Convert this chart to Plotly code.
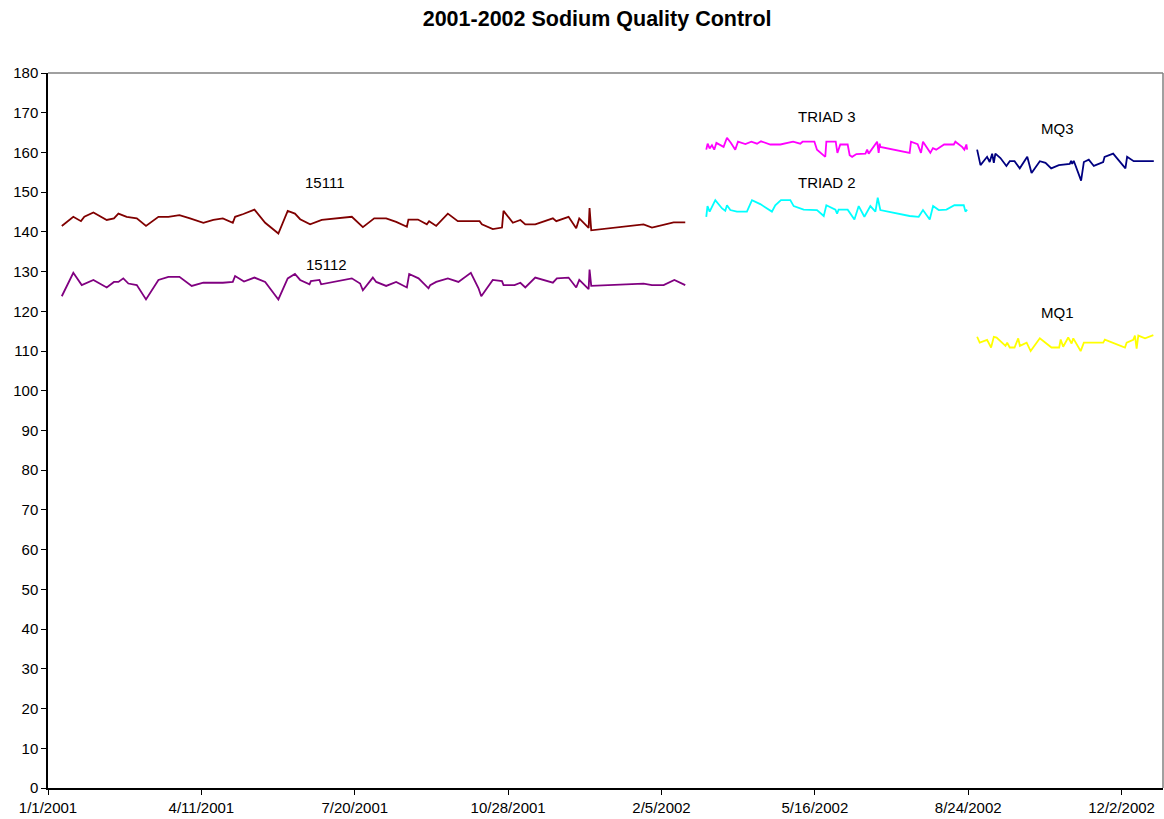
import pandas as pd
import plotly.graph_objects as go

BASE = "2001-01-01"

# ---- data: x as days since 1/1/2001, y as sodium values ----
d_15111 = [9, 16.5, 21.5, 23.7, 29.6, 38.3, 43, 45.9, 51.3, 57.9, 63.9, 72, 78.5, 85.7, 92.6,
           101.3, 107.8, 114, 120.5, 122, 127.4, 134.6, 141.6, 150.2, 156.3, 161, 164.4, 170.9,
           178.5, 198.1, 205.3, 212.7, 220.5, 227, 234, 235, 241.2, 247, 248.5, 253.1, 260.7,
           267.2, 281.4, 282.9, 290, 296, 297, 303.1, 308, 311.2, 317.7, 329.2, 331.4, 339.4,
           344.4, 346.4, 352.5, 353.1, 354.2, 388.3, 393.8, 401.4, 407.9, 415.5]
v_15111 = [141.5, 143.8, 142.7, 143.8, 144.9, 143.0, 143.4, 144.6, 143.8, 143.4, 141.5, 143.8,
           143.8, 144.2, 143.4, 142.3, 143.0, 143.4, 142.3, 143.8, 144.5, 145.6, 142.3, 139.6,
           145.3, 144.6, 143.2, 141.9, 143.0, 143.8, 141.2, 143.4, 143.4, 142.5, 141.3, 143.1,
           143.1, 141.9, 142.7, 141.5, 144.6, 142.7, 142.7, 141.9, 140.7, 141.1, 145.3, 142.3,
           143.0, 141.9, 141.9, 143.4, 142.7, 143.8, 140.9, 143.4, 141.0, 146.0, 140.4, 141.9,
           141.1, 141.9, 142.4, 142.4]

d_15112 = [9, 16.5, 22, 29.6, 38.3, 43, 45.9, 49.1, 52.4, 57.9, 63.9, 72, 78.5, 85.7, 93.7,
           101.3, 114, 120.5, 122, 127.8, 134.6, 141.6, 150.2, 156.3, 161, 164.4, 170.5, 171.4,
           177, 178.1, 198.1, 203.5, 205.3, 211.8, 214, 220.5, 227, 234, 235.5, 241.6, 248.1,
           249.2, 253.1, 260.7, 267.6, 275.7, 280.7, 282.5, 290, 296, 297, 304.2, 308, 311.2,
           317.7, 329.2, 331.8, 339.4, 344.4, 346.4, 352.5, 353.1, 354.2, 388.3, 393.8, 401.4,
           408.4, 415.5]
v_15112 = [123.8, 129.7, 126.6, 127.9, 126.0, 127.4, 127.4, 128.3, 127.0, 126.6, 123.0, 127.9,
           128.7, 128.7, 126.4, 127.2, 127.2, 127.4, 128.9, 127.5, 128.5, 127.4, 123.0, 128.3,
           129.4, 127.9, 126.8, 127.6, 127.9, 126.8, 128.3, 127.0, 125.3, 128.5, 127.4, 126.4,
           127.4, 126.0, 129.4, 128.3, 125.8, 126.6, 127.4, 128.3, 127.4, 129.7, 125.8, 123.8,
           127.9, 127.6, 126.6, 126.6, 127.2, 126.0, 128.5, 127.2, 128.3, 128.5, 126.0, 127.9,
           125.6, 130.5, 126.4, 127.0, 126.6, 126.6, 127.9, 126.6]

d_triad3 = [429.2, 430.1, 431.4, 432.9, 434.4, 435.8, 440.5, 442.7, 445.3, 448.1, 449.9, 454.7,
            458.6, 462.3, 464.9, 471, 477.5, 485.8, 490.5, 492, 499.7, 501.4, 506.8, 507.5,
            513.6, 514.7, 516.6, 521.4, 522.7, 524.3, 527.1, 533, 534.1, 535.1, 540.6, 541.6,
            542.3, 542.7, 561.8, 562.7, 567, 569.2, 570.5, 575.3, 577, 579.1, 584.3, 590.6,
            591.6, 596, 597.5, 598.8, 599.3]
v_triad3 = [160.7, 162.2, 161.0, 161.8, 160.7, 162.4, 161.4, 163.7, 162.4, 160.7, 162.7, 162.1,
            162.7, 162.2, 162.8, 162.0, 162.0, 162.7, 162.2, 162.7, 162.7, 160.7, 158.9, 162.7,
            162.7, 159.9, 162.0, 162.0, 159.3, 158.9, 159.6, 159.7, 160.7, 159.7, 162.7, 159.9,
            162.2, 161.4, 159.9, 162.7, 162.1, 159.9, 162.7, 159.9, 161.1, 160.7, 162.0, 162.0,
            162.7, 161.4, 160.7, 162.0, 160.7]

d_triad2 = [429.2, 430, 431.4, 435.1, 439.5, 441.6, 442.7, 444.9, 449.2, 455.7, 459, 464.4, 472,
            474.2, 477.9, 484, 486.2, 492.7, 501.4, 505.8, 507.5, 513.4, 514.5, 515.5, 521.4,
            525.8, 528.6, 532.3, 536.2, 539.5, 541, 542.7, 561.8, 567.7, 570.5, 574.9, 577.1,
            580.8, 585.8, 591, 597.1, 598.2, 599.3]
v_triad2 = [143.8, 146.5, 145.1, 148.0, 145.9, 145.3, 146.7, 145.5, 145.1, 145.1, 148.0, 147.0,
            145.1, 146.7, 148.0, 148.0, 146.5, 145.6, 145.5, 144.0, 146.7, 145.6, 144.6, 145.6,
            145.6, 143.1, 146.5, 143.8, 146.5, 145.1, 148.6, 145.5, 144.0, 143.8, 145.5, 143.1,
            146.5, 145.5, 145.6, 146.7, 146.7, 145.1, 145.6]

d_mq3 = [605.8, 608, 612.3, 614, 615.6, 616.7, 617.7, 621, 624.9, 627.1, 630.2, 633.6, 638.5,
         641.3, 646.7, 650.4, 654.1, 659.1, 666.2, 667.1, 667.8, 668.8, 673.6, 675.4, 678.6,
         681.9, 688, 688.9, 694.5, 702.5, 703.6, 707.9, 721]
v_mq3 = [160.7, 156.8, 158.9, 157.6, 159.7, 157.4, 159.7, 158.6, 156.6, 157.8, 157.8, 156.0,
         158.9, 154.8, 157.8, 157.4, 156.0, 156.8, 157.1, 157.9, 157.1, 157.9, 152.9, 157.6,
         158.2, 156.6, 157.6, 158.9, 159.7, 156.0, 158.9, 157.8, 157.8]

d_mq1 = [605.8, 607.5, 612.3, 614.9, 616.7, 618.5, 624.3, 625.4, 627.1, 630.2, 632.6, 633.7,
         638.1, 640.7, 646.7, 650.6, 654.3, 659.3, 660.3, 661.9, 665.2, 667.4, 668.5, 673.3,
         675.4, 688, 689.1, 702.2, 703.3, 707.6, 708.7, 709.8, 710.9, 715.3, 720.7]
v_mq1 = [113.6, 112.1, 112.8, 110.9, 113.6, 113.4, 111.3, 112.1, 110.9, 110.9, 113.2, 111.3,
         112.1, 110.0, 113.2, 112.1, 110.9, 110.9, 112.9, 111.1, 113.4, 111.9, 113.2, 110.0,
         112.1, 112.1, 112.9, 110.9, 112.1, 112.8, 113.9, 110.6, 113.9, 113.2, 114.0]

series = [
    ("15111", d_15111, v_15111, "#800000"),
    ("15112", d_15112, v_15112, "#800080"),
    ("TRIAD 3", d_triad3, v_triad3, "#FF00FF"),
    ("TRIAD 2", d_triad2, v_triad2, "#00FFFF"),
    ("MQ3", d_mq3, v_mq3, "#000080"),
    ("MQ1", d_mq1, v_mq1, "#FFFF00"),
]

# label positions (days since base, value)
label_names = ["15111", "15112", "TRIAD 3", "TRIAD 2", "MQ3", "MQ1"]
label_days = [180.7, 181.3, 508, 508, 658, 658]
label_vals = [152.5, 131.9, 169.1, 152.5, 166.1, 119.6]

base = pd.Timestamp(BASE)
def to_dates(days):
    return [base + pd.Timedelta(days=float(d)) for d in days]

FONT = "Liberation Sans, Arial, sans-serif"

fig = go.Figure()
for name, d, v, c in series:
    fig.add_trace(go.Scatter(x=to_dates(d), y=v, mode="lines", name=name,
                             line=dict(color=c, width=1.8), showlegend=False))

for n, d, v in zip(label_names, label_days, label_vals):
    fig.add_annotation(x=base + pd.Timedelta(days=d), y=v, text=n, showarrow=False,
                       font=dict(family=FONT, size=15, color="#000000"))

fig.update_layout(
    width=1164, height=819,
    margin=dict(l=48, r=1, t=73, b=31),
    paper_bgcolor="white", plot_bgcolor="white",
    font=dict(family=FONT, size=15, color="#000000"),
    title=dict(text="<b>2001-2002 Sodium Quality Control</b>", x=0.513, xanchor="center",
               y=0.978, yanchor="middle", font=dict(family=FONT, size=21.5, color="#000000")),
    xaxis=dict(type="date", range=[base, base + pd.Timedelta(days=727)],
               tickmode="linear", tick0=base, dtick=100 * 86400000,
               tickformat="%-m/%-d/%Y", showgrid=False, zeroline=False,
               showline=True, linecolor="#000000", linewidth=1.5,
               ticks="outside", ticklen=5, tickcolor="#000000",
               tickfont=dict(family=FONT, size=15, color="#000000")),
    yaxis=dict(range=[0, 180], tickmode="linear", tick0=0, dtick=10,
               showgrid=False, zeroline=False,
               showline=True, linecolor="#000000", linewidth=1.5,
               ticks="outside", ticklen=5, tickcolor="#000000",
               tickfont=dict(family=FONT, size=15, color="#000000")),
    shapes=[
        dict(type="line", xref="paper", yref="paper", x0=0, x1=1, y0=1, y1=1,
             line=dict(color="#808080", width=1.5)),
        dict(type="line", xref="paper", yref="paper", x0=1, x1=1, y0=0, y1=1,
             line=dict(color="#808080", width=1.5)),
    ],
)

fig.write_html("out.html", config={"displayModeBar": False},
               post_script="document.body.style.margin='0';document.body.style.overflow='hidden';")
